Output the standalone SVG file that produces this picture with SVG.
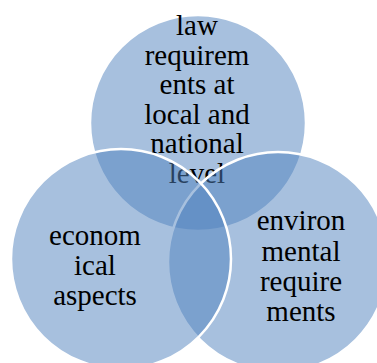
<svg xmlns="http://www.w3.org/2000/svg" width="377" height="363" viewBox="0 0 377 363">
<style>
.c{fill:#4F81BD;fill-opacity:0.5;stroke:#FFFFFF;stroke-width:2.5}
.t{font-family:"Liberation Serif","Times New Roman",serif;font-size:29px;fill:#000000;text-anchor:middle}
</style>
<rect width="377" height="363" fill="#FFFFFF"/>
<g id="law">
<circle class="c" cx="198" cy="123" r="108"/>
<text class="t"><tspan x="197" y="35">law</tspan><tspan x="197" y="65">requirem</tspan><tspan x="197" y="94">ents at</tspan><tspan x="197" y="124">local and</tspan><tspan x="197" y="153">national</tspan><tspan x="197" y="183">level</tspan></text>
</g>
<g id="environmental">
<circle class="c" cx="278" cy="262" r="110"/>
<text class="t"><tspan x="301" y="230">environ</tspan><tspan x="301" y="261">mental</tspan><tspan x="301" y="291">require</tspan><tspan x="301" y="321">ments</tspan></text>
</g>
<g id="economical">
<circle class="c" cx="121" cy="259" r="110"/>
<text class="t"><tspan x="95" y="245">econom</tspan><tspan x="95" y="275">ical</tspan><tspan x="95" y="305">aspects</tspan></text>
</g>
<g id="connectors"/>
</svg>
